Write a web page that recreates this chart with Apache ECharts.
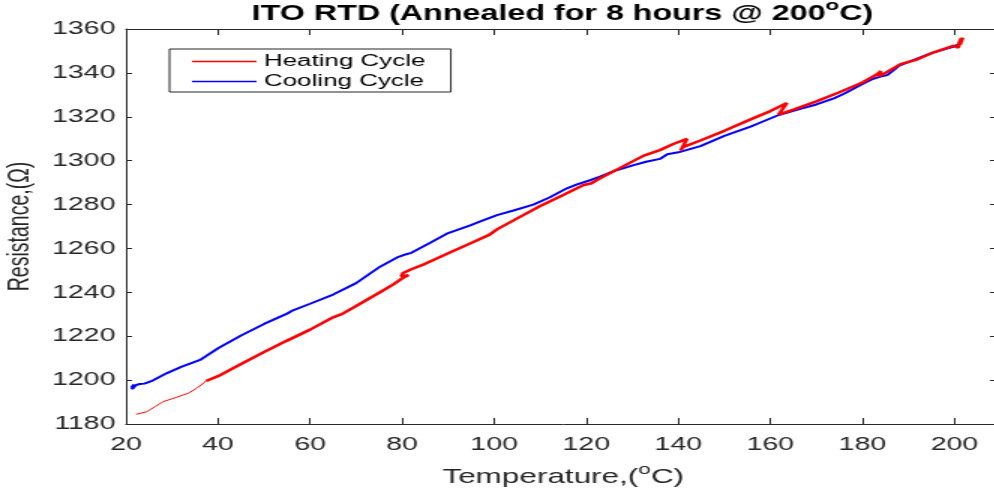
<!DOCTYPE html>
<html lang="en">
  <head>
    <meta charset="UTF-8" />
    <title>ITO RTD</title>
    <script src="https://cdn.jsdelivr.net/npm/echarts@6.0.0/dist/echarts.min.js"></script>
    <style>
      html, body { margin: 0; padding: 0; background: #fff; overflow: hidden; }
      /* the reference is stretched 1.5x horizontally, so draw narrow and stretch */
      #main { width: 667px; height: 489px; transform: scaleX(1.5); transform-origin: 0 0; }
    </style>
  </head>
  <body>
    <div id="main"></div>
    <script type="text/javascript">
      // heating cycle, first (thin) stretch
      var heatStartT = [22.2, 24.5, 26.3, 28.1, 31.0, 33.5, 35.4, 37.4];
      var heatStartR = [1184.4, 1185.6, 1187.9, 1190.2, 1192.2, 1194.0, 1196.3, 1199.6];

      // heating cycle, rest
      var heatT = [37.4, 40, 45, 50, 55, 60, 65, 67, 70, 75, 78, 80.5, 81.4, 79.8, 80.2, 82, 85, 90, 95, 99,
        100.6, 100.2, 101, 105, 110, 115, 119.4, 121, 123, 128, 132.5, 136, 138.9, 141.9, 140.5, 141,
        144.8, 150, 155.7, 160, 163.6, 161.8, 165, 170, 175, 180, 183.2, 184.0, 183.6, 185, 188.3, 192,
        195.5, 199.9, 200.8, 201.5, 200.9, 201.8, 201.2];
      var heatR = [1199.6, 1201.8, 1207.3, 1212.8, 1218.0, 1223.0, 1228.6, 1230.2, 1233.8, 1239.8, 1243.5,
        1247.0, 1247.8, 1247.2, 1248.8, 1250.5, 1253.0, 1257.8, 1262.5, 1266.3, 1268.7, 1267.8, 1269.6,
        1273.7, 1279.3, 1284.4, 1288.9, 1289.6, 1292.0, 1297.4, 1302.3, 1304.8, 1307.6, 1309.9, 1304.6,
        1306.2, 1309.2, 1313.6, 1318.8, 1322.6, 1326.3, 1321.0, 1323.3, 1327.0, 1331.2, 1335.6, 1339.4,
        1340.8, 1338.4, 1340.0, 1344.0, 1346.2, 1349.4, 1352.4, 1351.5, 1355.8, 1353.2, 1356.0, 1352.8];

      // cooling cycle
      var coolT = [201.0, 199.9, 198.7, 195, 191.9, 188, 185.4, 183.9, 182, 179.6, 176, 173.8, 170, 166.5,
        161.8, 158, 155.7, 150, 144.8, 140, 137.6, 138.2, 136, 133, 130.3, 126, 123, 121, 118, 115.8, 112,
        108.5, 104.2, 100.6, 97, 94.8, 90, 86.1, 82, 80.3, 79.2, 75.2, 70, 65, 60, 56, 55, 50, 45, 40,
        36.1, 32, 28.8, 25.5, 24, 23, 22.2, 21.6, 21.3, 21.7, 21.2];
      var coolR = [1353.2, 1352.0, 1351.3, 1349.0, 1346.5, 1343.3, 1339.0, 1338.3, 1337.0, 1334.5, 1330.5,
        1328.4, 1325.6, 1323.6, 1320.8, 1317.5, 1315.5, 1311.3, 1306.6, 1303.8, 1302.9, 1302.5, 1300.8,
        1299.5, 1298.0, 1295.2, 1292.7, 1291.2, 1289.2, 1287.4, 1283.2, 1280.0, 1277.3, 1275.2, 1272.3,
        1270.5, 1267.0, 1262.6, 1258.0, 1257.0, 1256.2, 1251.7, 1244.2, 1239.0, 1234.8, 1231.5, 1230.3,
        1225.6, 1220.3, 1214.5, 1209.2, 1206.0, 1203.1, 1199.5, 1198.4, 1198.2, 1197.8, 1197.2, 1195.8,
        1198.0, 1196.5];

      var seriesNames = ["Heating Cycle", "Cooling Cycle"];

      function pairs(xs, ys) {
        return xs.map(function (x, i) { return [x, ys[i]]; });
      }

      var axisColor = "#262626";
      var font = "Liberation Sans, Arial, sans-serif";

      var myChart = echarts.init(document.getElementById("main"));

      var option = {
        animation: false,
        backgroundColor: "#fff",
        title: {
          text: "ITO RTD (Annealed for 8 hours @ 200{sup|o}C)",
          left: 375,
          top: -2,
          padding: 0,
          textAlign: "center",
          textStyle: {
            fontFamily: font,
            fontSize: 21.5,
            fontWeight: "bold",
            color: "#000",
            lineHeight: 32,
            rich: {
              sup: { fontFamily: font, fontSize: 15, fontWeight: "bold", color: "#000",
                lineHeight: 15, verticalAlign: "top" },
            },
          },
        },
        legend: {
          data: seriesNames,
          orient: "vertical",
          left: 113,
          top: 49,
          icon: "rect",
          itemWidth: 43,
          itemHeight: 1.5,
          itemGap: 3,
          padding: [4, 17, 2, 15],
          borderColor: axisColor,
          borderWidth: 1,
          textStyle: { fontFamily: font, fontSize: 17.3, color: "#000" },
        },
        grid: { left: 84, right: 0, top: 29, bottom: 65, containLabel: false, outerBoundsMode: "none" },
        xAxis: [
          {
            type: "value",
            min: 20,
            max: 210,
            interval: 20,
            name: "Temperature,({sup|o}C)",
            nameLocation: "middle",
            nameGap: 38,
            nameTextStyle: {
              fontFamily: font,
              fontSize: 21,
              color: axisColor,
              lineHeight: 30,
              rich: { sup: { fontFamily: font, fontSize: 15, color: axisColor, lineHeight: 15, verticalAlign: "top" } },
            },
            axisLine: { onZero: false, lineStyle: { color: axisColor, width: 1 } },
            axisTick: { inside: true, length: 6, lineStyle: { color: axisColor } },
            axisLabel: {
              fontFamily: font,
              fontSize: 19,
              color: axisColor,
              margin: 11,
              formatter: function (v) { return v % 20 === 0 ? String(v) : ""; },
            },
            splitLine: { show: false },
          },
          {
            type: "value",
            position: "top",
            min: 20,
            max: 210,
            interval: 20,
            axisLine: { onZero: false, lineStyle: { color: axisColor, width: 1 } },
            axisTick: { inside: true, length: 6, lineStyle: { color: axisColor } },
            axisLabel: { show: false },
            splitLine: { show: false },
          },
        ],
        yAxis: [
          {
            type: "value",
            min: 1180,
            max: 1360,
            interval: 20,
            name: "Resistance,(\u03A9)",
            nameLocation: "middle",
            nameRotate: 90,
            nameGap: 51,
            nameTextStyle: { fontFamily: font, fontSize: 19.5, color: axisColor },
            axisLine: { show: true, onZero: false, lineStyle: { color: axisColor, width: 1 } },
            axisTick: { show: true, inside: true, length: 4, lineStyle: { color: axisColor } },
            axisLabel: {
              fontFamily: font,
              fontSize: 19,
              color: axisColor,
              margin: 7,
              formatter: function (v) { return String(v); },
            },
            splitLine: { show: false },
          },
          {
            type: "value",
            position: "right",
            min: 1180,
            max: 1360,
            interval: 20,
            axisLine: { show: true, onZero: false, lineStyle: { color: axisColor, width: 1 } },
            axisTick: { show: true, inside: true, length: 7, lineStyle: { color: axisColor } },
            axisLabel: { show: false },
            splitLine: { show: false },
          },
        ],
        series: [
          {
            name: seriesNames[1],
            type: "line",
            data: pairs(coolT, coolR),
            showSymbol: false,
            color: "#0000ff",
            lineStyle: { width: 2, color: "#0000ff" },
          },
          {
            name: seriesNames[0],
            type: "line",
            data: pairs(heatStartT, heatStartR),
            showSymbol: false,
            color: "#ff0000",
            lineStyle: { width: 1, color: "#ff0000" },
          },
          {
            name: seriesNames[0],
            type: "line",
            data: pairs(heatT, heatR),
            showSymbol: false,
            color: "#ff0000",
            lineStyle: { width: 2.5, color: "#ff0000" },
          },
        ],
      };
      myChart.setOption(option);
    </script>
  </body>
</html>
